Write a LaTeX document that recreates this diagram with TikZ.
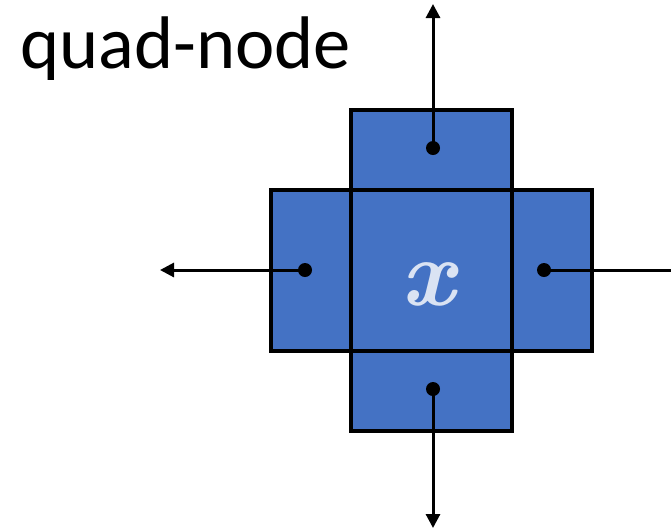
\documentclass[tikz,border=0pt]{standalone}
\usepackage{fontspec}
\setmainfont{Carlito}
\newfontfamily\xfont{Latin Modern Roman}
\usetikzlibrary{arrows.meta}
\definecolor{boxblue}{HTML}{4472C4}
\definecolor{xcol}{HTML}{DAE3F3}
\newcommand{\bigx}{\xfont\bfseries\itshape\fontsize{95pt}{95pt}\selectfont}
\newcommand{\titlefont}{\fontsize{74.5pt}{74.5pt}\selectfont}
\tikzset{
  cell/.style={draw=black, fill=boxblue, line width=3.2pt, inner sep=0pt, outer sep=0pt},
  dotnode/.style={circle, fill=black, inner sep=0pt, minimum size=14pt},
  link/.style={line width=3pt, -{Triangle[length=14pt,width=14pt]}},
}
\begin{document}
\begin{tikzpicture}[x=1pt,y=-1pt]
\useasboundingbox (0,0) rectangle (671,531);
% cells
\node[cell, minimum width=161pt, minimum height=80pt] (top) at (431.5,150) {};
\node[cell, minimum width=161pt, minimum height=80pt] (bot) at (431.5,391) {};
\node[cell, minimum width=80pt, minimum height=161pt] (left) at (311,270.5) {};
\node[cell, minimum width=80pt, minimum height=161pt] (right) at (552,270.5) {};
\node[cell, minimum width=161pt, minimum height=161pt] (ctr) at (431.5,270.5) {};
\node[text=xcol, font=\bigx, anchor=base, inner sep=0pt] (xlabel) at (428,305) {x};
% dots
\node[dotnode] (dt) at (433,148) {};
\node[dotnode] (db) at (433,389) {};
\node[dotnode] (dl) at (305,270) {};
\node[dotnode] (dr) at (544,270) {};
% arrow ends
\coordinate (et) at (433,4);
\coordinate (eb) at (433,528);
\coordinate (el) at (160,270);
\coordinate (er) at (672,270);
\draw[link] (dt.center) -- (et);
\draw[link] (db.center) -- (eb);
\draw[link] (dl.center) -- (el);
\draw[line width=3pt] (dr.center) -- (er);
% title
\node[anchor=base west, inner sep=0pt, font=\titlefont] (title) at (20,68) {quad-node};
\end{tikzpicture}
\end{document}
